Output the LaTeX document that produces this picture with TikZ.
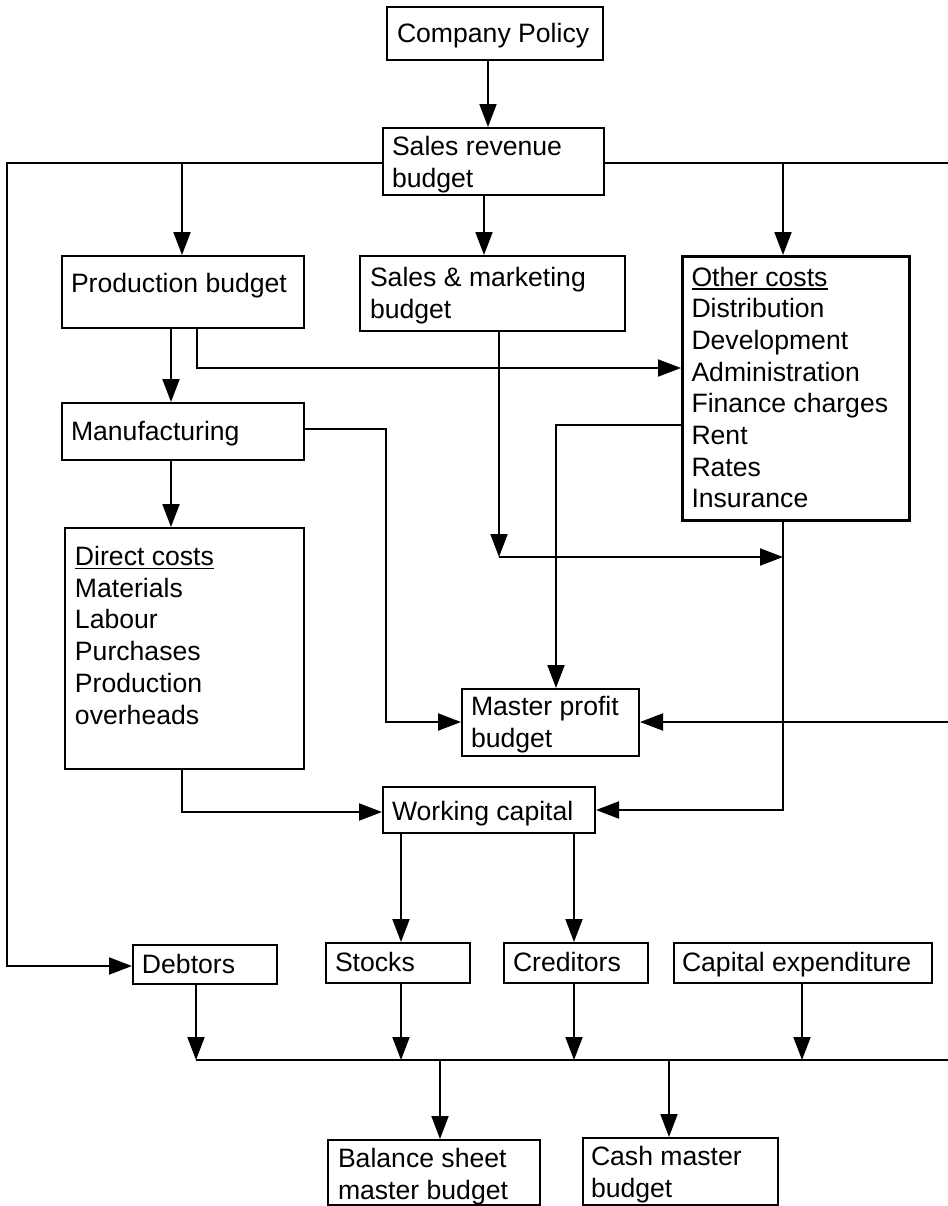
\documentclass[tikz,border=0pt]{standalone}
\usepackage{fontspec}
\setmainfont{Liberation Sans}
\usetikzlibrary{arrows.meta}

% one drawing unit (0.5pt) as a TeX length
\newdimen\pxu \pxu=0.5pt
% box contents: width, height, first baseline below top, left padding, text
\newcommand\panel[5]{\parbox[c][#2\pxu][t]{#1\pxu}{\raggedright\leftskip=#4\pxu\relax
  \vskip\dimexpr#3\pxu-\ht\strutbox\relax\strut #5}}
% underlined heading
\newcommand\headline[1]{\setbox0\hbox{#1}\rlap{\rule[-1.9pt]{\wd0}{0.9pt}}\box0}

\tikzset{
  box/.style={draw, line width=1pt, inner sep=0pt, anchor=north west,
    font=\fontsize{13.3}{15.85}\selectfont},
  heavybox/.style={box, line width=1.5pt},
  link/.style={line width=1pt},
  arr/.style={link, -{Triangle[length=11.5pt,width=8.5pt]}}
}

\begin{document}
\begin{tikzpicture}[x=0.5pt,y=-0.5pt]
\fill[white] (0,0) rectangle (948,1206);
\useasboundingbox (0,0) rectangle (948,1206);

% boxes
\node[box] (cp)   at (386,6)    {\panel{216}{53}{35.5}{10}{Company Policy}};
\node[box] (srb)  at (382,127)  {\panel{221}{67}{27.5}{9}{Sales revenue\\budget}};
\node[box] (pb)   at (61,255)   {\panel{242}{72}{36.5}{9}{Production budget}};
\node[box] (smb)  at (359,255)  {\panel{265}{75}{30.5}{10}{Sales \& marketing\\budget}};
\node[heavybox] (oc) at (681,255) {\panel{227}{264}{29.5}{9}{\headline{Other costs}\\Distribution\\Development\\Administration\\Finance charges\\Rent\\Rates\\Insurance}};
\node[box] (mf)   at (61,402)   {\panel{242}{57}{37.5}{9}{Manufacturing}};
\node[box] (dc)   at (64,527)   {\panel{239}{241}{37.5}{10}{\headline{Direct costs}\\Materials\\Labour\\Purchases\\Production\\overheads}};
\node[box] (mpb)  at (461,688)  {\panel{177}{67}{26.5}{9}{Master profit\\budget}};
\node[box] (wc)   at (382,786)  {\panel{212}{46}{33}{9}{Working capital}};
\node[box] (deb)  at (132,944)  {\panel{144}{39}{28}{9}{Debtors}};
\node[box] (stk)  at (325,942)  {\panel{144}{40}{28}{9}{Stocks}};
\node[box] (cred) at (503,942)  {\panel{144}{40}{28}{9}{Creditors}};
\node[box] (capx) at (673,942)  {\panel{258}{40}{28}{8}{Capital expenditure}};
\node[box] (bs)   at (327,1139) {\panel{212}{65}{27.5}{10}{Balance sheet\\master budget}};
\node[box] (cash) at (582,1137) {\panel{195}{67}{27.5}{8}{Cash master\\budget}};

% routing points
\coordinate (wl)  at (7,163);
\coordinate (wr)  at (948,163);
\coordinate (dl)  at (7,966);
\coordinate (jpb) at (182,163);
\coordinate (joc) at (783,163);
\coordinate (c1)  at (488,0);
\coordinate (c2)  at (484,0);
\coordinate (c3)  at (171,0);
\coordinate (b7)  at (197,368);
\coordinate (b9a) at (386,429);
\coordinate (b9b) at (386,722);
\coordinate (b10) at (499,557);
\coordinate (e10) at (783,557);
\coordinate (b11) at (783,810);
\coordinate (b12) at (556,425);
\coordinate (e13) at (948,722);
\coordinate (b14) at (182,812);
\coordinate (c15) at (401,1060);
\coordinate (c16) at (574,1060);
\coordinate (c17) at (196,1060);
\coordinate (c20) at (802,1060);
\coordinate (c21) at (440,1060);
\coordinate (c22) at (669,1060);
\coordinate (busr) at (948,1060);

% policy to sales revenue
\draw[arr] (cp.south -| c1) -- (srb.north -| c1);
% sales revenue distribution rail
\draw[arr] (srb.west |- wl) -- (wl) -- (dl) -- (deb.west |- dl);
\draw[arr] (jpb) -- (pb.north -| jpb);
\draw[link] (srb.east |- wr) -- (wr);
\draw[arr] (joc) -- (oc.north -| joc);
\draw[arr] (srb.south -| c2) -- (smb.north -| c2);
% production chain
\draw[arr] (pb.south -| c3) -- (mf.north -| c3);
\draw[arr] (pb.south -| b7) -- (b7) -- (oc.west |- b7);
\draw[arr] (mf.south -| c3) -- (dc.north -| c3);
\draw[arr] (mf.east |- b9a) -- (b9a) -- (b9b) -- (mpb.west |- b9b);
% sales & marketing and other costs
\draw[arr] (smb.south -| b10) -- (b10);
\draw[arr] (b10) -- (e10);
\draw[arr] (oc.south -| b11) -- (b11) -- (wc.east |- b11);
\draw[arr] (oc.west |- b12) -- (b12) -- (mpb.north -| b12);
\draw[arr] (e13) -- (mpb.east |- e13);
% working capital
\draw[arr] (dc.south -| b14) -- (b14) -- (wc.west |- b14);
\draw[arr] (wc.south -| c15) -- (stk.north -| c15);
\draw[arr] (wc.south -| c16) -- (cred.north -| c16);
% collecting bus
\draw[arr] (deb.south -| c17) -- (c17);
\draw[arr] (stk.south -| c15) -- (c15);
\draw[arr] (cred.south -| c16) -- (c16);
\draw[arr] (capx.south -| c20) -- (c20);
\draw[link] (c17) -- (busr);
\draw[arr] (c21) -- (bs.north -| c21);
\draw[arr] (c22) -- (cash.north -| c22);
\end{tikzpicture}
\end{document}
